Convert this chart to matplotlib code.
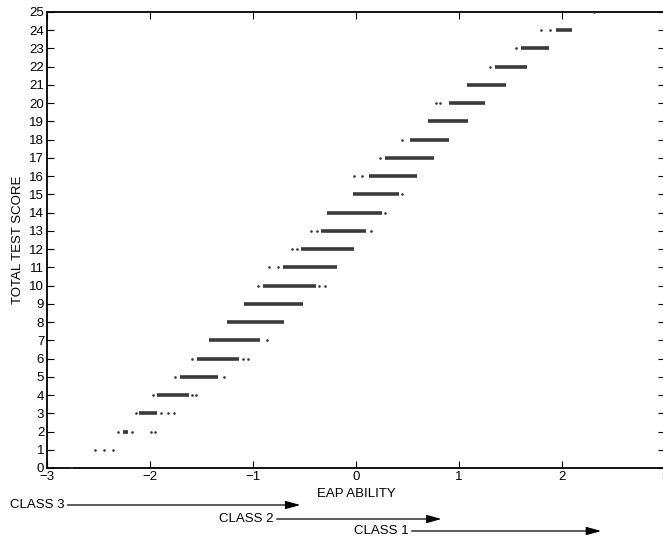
import numpy as np
import matplotlib
matplotlib.use('Agg')
import matplotlib.pyplot as plt

plt.rcParams['font.family'] = ['Liberation Sans', 'DejaVu Sans']

# total test score rows: dense band of EAP estimates (start, end)
scores = [2, 3, 4, 5, 6, 7, 8, 9, 10, 11, 12, 13, 14, 15, 16, 17, 18, 19, 20, 21, 22, 23, 24]
band_start = [-2.26, -2.11, -1.93, -1.71, -1.54, -1.43, -1.25, -1.09, -0.90, -0.71, -0.53, -0.34,
              -0.28, -0.03, 0.13, 0.28, 0.52, 0.70, 0.90, 1.08, 1.35, 1.60, 1.94]
band_end = [-2.21, -1.93, -1.62, -1.34, -1.14, -0.93, -0.70, -0.51, -0.39, -0.18, -0.02, 0.10,
            0.25, 0.42, 0.59, 0.76, 0.90, 1.09, 1.25, 1.46, 1.66, 1.87, 2.10]

# isolated points
pt_score = [0, 1, 1, 1, 2, 2, 2, 2, 3, 3, 3, 3, 4, 4, 4, 5, 5, 6, 6, 6, 7, 10, 10, 10, 11, 11,
            12, 12, 13, 13, 13, 14, 15, 16, 16, 17, 18, 20, 20, 22, 23, 24, 24, 25]
pt_x = [-2.77, -2.53, -2.45, -2.36, -2.31, -2.17, -1.99, -1.95, -2.14, -1.89, -1.83, -1.77,
        -1.97, -1.59, -1.55, -1.76, -1.28, -1.59, -1.10, -1.05, -0.86, -0.95, -0.36, -0.30,
        -0.84, -0.76, -0.62, -0.57, -0.44, -0.38, 0.15, 0.28, 0.45, -0.02, 0.06, 0.23, 0.45,
        0.78, 0.82, 1.30, 1.55, 1.80, 1.88, 2.31]

# class arrows (x in EAP units)
class_names = ['CLASS 3', 'CLASS 2', 'CLASS 1']
class_from = [-2.80, -0.77, 0.54]
class_to = [-0.54, 0.83, 2.38]
class_ypix = [505, 519, 531]

W, H = 663, 538
fig = plt.figure(figsize=(W / 100, H / 100), dpi=100)
ax = fig.add_axes([47 / W, (H - 468) / H, (665 - 47) / W, (468 - 12) / H])

ax.hlines(scores, band_start, band_end, color='#3a3a3a', lw=2.6, capstyle='butt')
ax.scatter(pt_x, pt_score, s=3.5, color='#333333', lw=0, zorder=3)

ax.set_xlim(-3, 3)
ax.set_ylim(0, 25)
ax.set_xticks(range(-3, 4))
ax.set_xticklabels(['\u22123', '\u22122', '\u22121', '0', '1', '2', '3'])
ax.set_yticks(range(0, 26))
ax.tick_params(direction='in', top=True, right=True, labelsize=9.5, length=5, width=0.8, pad=2)
for s in ax.spines.values():
    s.set_linewidth(1.3)
ax.set_xlabel('EAP ABILITY', fontsize=9.5, labelpad=4)
ax.set_ylabel('TOTAL TEST SCORE', fontsize=9.5, labelpad=4)

# x data -> figure fraction
def fx(x):
    return (47 + (x + 3) * (665 - 47) / 6) / W

for name, x0, x1, yp in zip(class_names, class_from, class_to, class_ypix):
    yf = (H - yp) / H
    fig.text(fx(x0) - 3 / W, yf, name, ha='right', va='center', fontsize=9.5)
    ax.annotate('', xy=(fx(x1), yf), xytext=(fx(x0), yf),
                xycoords='figure fraction', textcoords='figure fraction',
                arrowprops=dict(arrowstyle='-|>,head_length=0.9,head_width=0.25',
                                color='black', lw=0.9, shrinkA=0, shrinkB=0),
                annotation_clip=False)

fig.savefig('out.png', dpi=100)
